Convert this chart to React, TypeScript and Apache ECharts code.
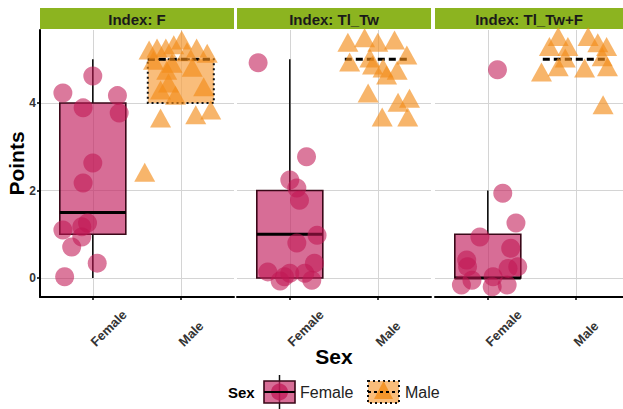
import React, { useEffect, useRef } from "react";
import * as echarts from "echarts";

const sexes = ["Female", "Male"];
const indexes = ["F", "Tl_Tw", "Tl_Tw+F"];
const yTicks = [0, 2, 4];

// box stats: [low whisker, q1, median, q3, high whisker]
const femaleBox = [
  [0, 1, 1.5, 4, 5],
  [0, 0, 1, 2, 5],
  [0, 0, 0, 1, 2],
];
const maleBox = [
  [4, 4, 5, 5, 5],
  [5, 5, 5, 5, 5],
  [5, 5, 5, 5, 5],
];

// jittered points [x (1 = Female, 2 = Male), points]
const femaleF = [
  [0.66, 4.23], [1.0, 4.62], [1.28, 4.17], [0.89, 3.89], [1.3, 3.77], [1.0, 2.63], [0.89, 2.17],
  [0.66, 1.1], [0.875, 1.17], [0.94, 1.26], [0.875, 0.94], [0.76, 0.71], [1.05, 0.34], [0.68, 0.03],
];
const maleF = [
  [1.64, 5.21], [1.73, 5.26], [1.83, 5.26], [1.92, 5.33], [2.01, 5.44], [2.18, 5.26], [2.3, 5.14],
  [2.07, 5.17], [1.69, 4.98], [1.84, 4.75], [2.13, 4.82], [1.86, 4.46], [1.77, 4.3], [1.94, 4.18],
  [2.26, 4.37], [1.9, 4.91], [1.77, 3.66], [2.17, 3.73], [2.34, 3.84], [1.59, 2.42],
];
const femaleTlTw = [
  [0.64, 4.92], [1.19, 2.77], [1.0, 2.24], [1.08, 2.06], [1.11, 1.78], [1.31, 0.98], [1.08, 0.8],
  [0.75, 0.14], [0.94, 0.03], [1.0, 0.11], [1.17, 0.11], [1.28, 0.34], [1.25, -0.05], [0.89, -0.07],
];
const maleTlTw = [
  [1.66, 5.39], [1.85, 5.49], [2.0, 5.39], [2.19, 5.44], [2.33, 5.1], [1.68, 4.94], [1.91, 5.03],
  [2.06, 4.8], [2.22, 4.75], [1.94, 4.87], [1.89, 4.23], [2.23, 4.02], [2.36, 4.11], [2.05, 3.68],
  [2.34, 3.68], [2.1, 4.64],
];
const femaleTlTwF = [
  [1.11, 4.76], [1.17, 1.94], [1.32, 1.26], [0.91, 0.94], [1.26, 0.68], [0.76, 0.41], [0.77, 0.26],
  [1.34, 0.26], [1.23, 0.22], [1.06, 0.03], [0.7, -0.16], [1.05, -0.2], [1.22, -0.16], [0.82, -0.05],
];
const maleTlTwF = [
  [1.8, 5.52], [1.7, 5.29], [1.91, 5.29], [2.14, 5.52], [2.25, 5.38], [2.35, 5.29], [1.61, 4.71],
  [1.8, 4.83], [2.1, 4.8], [2.36, 4.83], [1.88, 5.03], [2.3, 5.06], [2.31, 3.96],
];

const femalePoints = [femaleF, femaleTlTw, femaleTlTwF];
const malePoints = [maleF, maleTlTw, maleTlTwF];

const FONT = "Liberation Sans, Arial, sans-serif";
const F_POINT = "rgba(192,22,84,0.72)";
const F_BOX = "rgba(196,40,100,0.68)";
const M_POINT = "rgba(242,140,24,0.8)";
const M_BOX = "rgba(246,164,72,0.72)";

const grids = [
  { left: 40, width: 194 },
  { left: 237, width: 194 },
  { left: 435, width: 188 },
];
const TOP = 30;
const HEIGHT = 267;
const UNIT = 88;

export default function App() {
  const ref = useRef<HTMLDivElement>(null);
  useEffect(() => {
    if (!ref.current) return;
    const chart = echarts.init(ref.current, null, { renderer: "svg" });

    const renderBox = (params: any, api: any) => {
      const x = api.value(0);
      const lo = api.value(1), q1 = api.value(2), med = api.value(3), q3 = api.value(4), hi = api.value(5);
      const male = api.value(6) === 1;
      const c = (v: number) => api.coord([x, v]);
      const w = api.size([0.75, 0])[0];
      const pLo = c(lo), pQ1 = c(q1), pMed = c(med), pQ3 = c(q3), pHi = c(hi);
      const cx = pMed[0];
      const children: any[] = [];
      const stroke = male ? "#111" : "#3a0818";
      if (hi > q3)
        children.push({ type: "line", shape: { x1: cx, y1: pQ3[1], x2: cx, y2: pHi[1] }, style: { stroke: "#111", lineWidth: 1.6 } });
      if (lo < q1)
        children.push({ type: "line", shape: { x1: cx, y1: pQ1[1], x2: cx, y2: pLo[1] }, style: { stroke: "#111", lineWidth: 1.6 } });
      if (q3 > q1)
        children.push({
          type: "rect",
          shape: { x: cx - w / 2, y: pQ3[1], width: w, height: pQ1[1] - pQ3[1] },
          style: { fill: male ? M_BOX : F_BOX, stroke, lineWidth: male ? 2 : 1.6, lineDash: male ? [2, 3] : null },
        });
      children.push({
        type: "line",
        shape: { x1: cx - w / 2, y1: pMed[1], x2: cx + w / 2, y2: pMed[1] },
        style: { stroke: "#000", lineWidth: 3, lineDash: male ? [7, 4] : null },
      });
      return { type: "group", children };
    };

    const xAxis = grids.map((g, i) => ({
      type: "value",
      gridIndex: i,
      min: 0.4,
      max: 0.4 + g.width / UNIT,
      name: i === 1 ? "Sex" : "",
      nameLocation: "middle",
      nameGap: 49,
      nameMoveOverlap: false,
      nameTextStyle: { fontFamily: FONT, fontSize: 21, fontWeight: "bold", color: "#000" },
      axisLine: { show: true, onZero: false, lineStyle: { color: "#000", width: 2 } },
      axisTick: { show: true, customValues: [1, 2], length: 3, lineStyle: { color: "#000", width: 1.5 } },
      axisLabel: {
        customValues: [1, 2],
        formatter: (v: number) => sexes[Math.round(v) - 1],
        rotate: 45,
        align: "left",
        verticalAlign: "middle",
        margin: 47,
        fontFamily: FONT,
        fontSize: 13,
        fontWeight: "bold",
        color: "#333",
      },
      splitLine: { show: true, lineStyle: { color: "#d4d4d4", width: 1 } },
    }));

    const yAxis = grids.map((g, i) => ({
      type: "value",
      gridIndex: i,
      min: -0.434,
      max: 5.67,
      name: i === 0 ? "Points" : "",
      nameLocation: "middle",
      nameGap: 13,
      nameMoveOverlap: false,
      nameTextStyle: { fontFamily: FONT, fontSize: 21, fontWeight: "bold", color: "#000" },
      axisLine: { show: i === 0, onZero: false, lineStyle: { color: "#000", width: 2 } },
      axisTick: { show: i === 0, customValues: yTicks, length: 3, lineStyle: { color: "#000", width: 1.5 } },
      axisLabel: {
        show: i === 0,
        customValues: yTicks,
        margin: 4,
        fontFamily: FONT,
        fontSize: 12,
        fontWeight: "bold",
        color: "#333",
      },
      splitLine: { show: true, lineStyle: { color: "#d4d4d4", width: 1 } },
    }));

    const series: any[] = [];
    indexes.forEach((_, i) => {
      series.push({
        type: "scatter",
        xAxisIndex: i,
        yAxisIndex: i,
        symbol: "circle",
        symbolSize: 19,
        itemStyle: { color: F_POINT },
        data: femalePoints[i],
        silent: true,
      });
      series.push({
        type: "scatter",
        xAxisIndex: i,
        yAxisIndex: i,
        symbol: "triangle",
        symbolSize: [21, 19],
        itemStyle: { color: M_POINT },
        data: malePoints[i],
        silent: true,
      });
      series.push({
        type: "custom",
        xAxisIndex: i,
        yAxisIndex: i,
        renderItem: renderBox,
        silent: true,
        data: [
          [1, ...femaleBox[i], 0],
          [2, ...maleBox[i], 1],
        ],
      });
    });

    const strips = grids.map((g, i) => ({
      type: "group",
      children: [
        { type: "rect", shape: { x: g.left, y: 8, width: g.width, height: 21 }, style: { fill: "#8cb420" } },
        {
          type: "text",
          x: g.left + g.width / 2,
          y: 19,
          style: {
            text: "Index: " + indexes[i],
            fontFamily: FONT,
            fontSize: 15,
            fontWeight: "bold",
            fill: "#1a1a1a",
            textAlign: "center",
            textVerticalAlign: "middle",
          },
        },
      ],
    }));

    const LY = 392;
    const legend = {
      type: "group",
      children: [
        { type: "text", x: 228, y: LY, style: { text: "Sex", fontFamily: FONT, fontSize: 15, fontWeight: "bold", fill: "#000", textVerticalAlign: "middle" } },
        { type: "line", shape: { x1: 279.5, y1: 375, x2: 279.5, y2: 409 }, style: { stroke: "#111", lineWidth: 1.5 } },
        { type: "rect", shape: { x: 264, y: 381, width: 31, height: 22 }, style: { fill: F_BOX, stroke: "#3a0818", lineWidth: 1.6 } },
        { type: "circle", shape: { cx: 279.5, cy: LY, r: 8.5 }, style: { fill: F_POINT } },
        { type: "line", shape: { x1: 264, y1: LY, x2: 295, y2: LY }, style: { stroke: "#000", lineWidth: 2 } },
        { type: "text", x: 300, y: LY, style: { text: "Female", fontFamily: FONT, fontSize: 16, fill: "#222", textVerticalAlign: "middle" } },
        { type: "rect", shape: { x: 368, y: 381, width: 31, height: 22 }, style: { fill: M_BOX, stroke: "#111", lineWidth: 2, lineDash: [2, 3] } },
        { type: "polygon", shape: { points: [[383.5, 381], [374, 399], [393, 399]] }, style: { fill: M_POINT } },
        { type: "line", shape: { x1: 368, y1: LY, x2: 399, y2: LY }, style: { stroke: "#000", lineWidth: 2, lineDash: [3, 3] } },
        { type: "text", x: 405, y: LY, style: { text: "Male", fontFamily: FONT, fontSize: 16, fill: "#222", textVerticalAlign: "middle" } },
      ],
    };

    chart.setOption({
      animation: false,
      backgroundColor: "#fff",
      textStyle: { fontFamily: FONT },
      grid: grids.map((g) => ({ left: g.left, width: g.width, top: TOP, height: HEIGHT })),
      xAxis,
      yAxis,
      series,
      graphic: [...strips, legend],
    });
    return () => chart.dispose();
  }, []);

  return <div ref={ref} style={{ width: 623, height: 409, position: "absolute", left: 0, top: 0 }} />;
}
